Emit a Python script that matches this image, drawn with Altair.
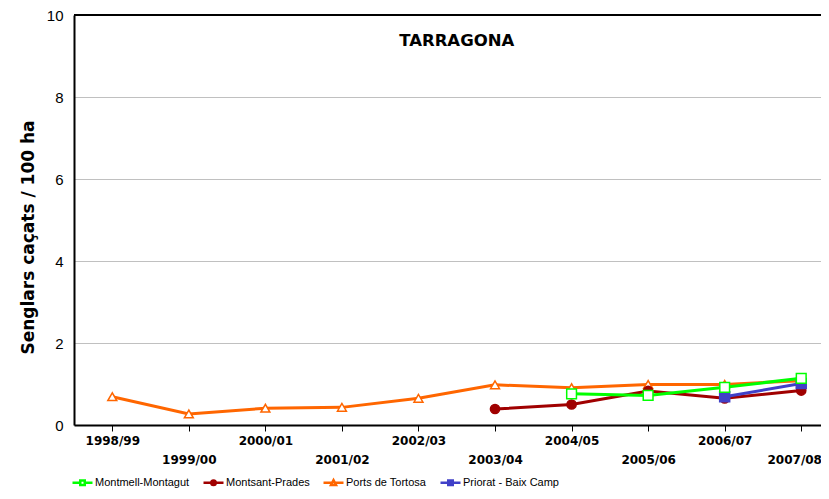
import altair as alt
import pandas as pd

# ---------------- data ----------------
seasons = ["1998/99", "1999/00", "2000/01", "2001/02", "2002/03",
           "2003/04", "2004/05", "2005/06", "2006/07", "2007/08"]
series_names = ["Montmell-Montagut", "Montsant-Prades", "Ports de Tortosa", "Priorat - Baix Camp"]
montmell = [None, None, None, None, None, None, 0.76, 0.72, 0.92, 1.14]
montsant = [None, None, None, None, None, 0.39, 0.50, 0.83, 0.65, 0.84]
ports = [0.69, 0.27, 0.41, 0.43, 0.65, 0.98, 0.91, 0.99, 0.99, 1.08]
priorat = [None, None, None, None, None, None, None, None, 0.69, 1.01]
chart_title = "TARRAGONA"
y_title = "Senglars caçats / 100 ha"
y_ticks = [0, 2, 4, 6, 8, 10]

# ---------------- styles ----------------
colors = ["#00FF00", "#A00000", "#FF6600", "#4040C8"]
fills = ["white", "#A00000", "white", "#4040C8"]
shapes = ["square", "circle", "triangle-up", "square"]
sizes = [95, 85, 80, 100]
legend_paths = [
    "M-1,0H0.55M1.45,0H3M0.55,-0.45H1.45V0.45H0.55Z",
    "M-1,0H3M1.45,0A0.45,0.45,0,1,1,0.55,0A0.45,0.45,0,1,1,1.45,0Z",
    "M-1,0H0.74M1.26,0H3M1,-0.5L1.5,0.45L0.5,0.45Z",
    "M-1,0H3M0.55,-0.45H1.45V0.45H0.55Z",
]
draw_order = [2, 1, 3, 0]

rows = []
for name, vals in zip(series_names, [montmell, montsant, ports, priorat]):
    for i, v in enumerate(vals):
        if v is not None:
            rows.append({"i": i, "season": seasons[i], "series": name, "value": v})
df = pd.DataFrame(rows)

W, H = 747, 410
step = 76.55
x_dom = [-0.5, -0.5 + W / step]
x_scale = alt.Scale(domain=x_dom, nice=False, zero=False)
y_scale = alt.Scale(domain=[0, 10], nice=False)

last = len(seasons) - 1
labels_js = "[" + ",".join("'" + s + "'" for s in seasons) + "]"
label_expr = f"datum.value % 2 == 1 ? ['', {labels_js}[datum.value]] : {labels_js}[datum.value]"

x_axis = alt.Axis(values=list(range(len(seasons))), labelExpr=label_expr, title=None, grid=False,
                  domainColor="black", domainWidth=2, tickColor="black", tickSize=6, tickWidth=1,
                  labelFont="DejaVu Sans", labelFontWeight="bold", labelFontSize=12, labelColor="black",
                  labelPadding=4, labelLineHeight=19, labelBaseline="top", labelAlign="center",
                  labelOffset={"condition": {"test": f"datum.value == {last}", "value": -7}, "value": 0},
                  labelOverlap=False, labelFlush=False)
y_axis = alt.Axis(values=y_ticks, title=y_title, titleFont="DejaVu Sans", titleFontSize=17,
                  titleFontWeight="bold", titleColor="black", titlePadding=9, titleY=222,
                  labelFont="Liberation Sans", labelFontSize=15, labelColor="black", labelPadding=11,
                  ticks=False, grid=True, gridColor="#C0C0C0", gridWidth=1,
                  domainColor="black", domainWidth=2)

X = alt.X("i:Q", scale=x_scale, axis=x_axis)
Y = alt.Y("value:Q", scale=y_scale, axis=y_axis)

base = alt.Chart(df)
layers = []

top_rule = base.mark_rule(color="black", strokeWidth=2).encode(
    y=alt.value(0), x=alt.value(0), x2=alt.value(W))
layers.append(top_rule)

for k in draw_order:
    name = series_names[k]
    sub = base.transform_filter(alt.datum.series == name)
    layers.append(sub.mark_line(color=colors[k], strokeWidth=3).encode(x=X, y=Y))
    layers.append(sub.mark_point(shape=shapes[k], size=sizes[k], stroke=colors[k], fill=fills[k],
                                 filled=True, strokeWidth=1.5, opacity=1).encode(x=X, y=Y))

leg = alt.Legend(title=None, orient="none", legendX=-3, legendY=461, direction="horizontal",
                 symbolSize=100, symbolStrokeWidth=2.5, symbolOpacity=1,
                 labelFont="Liberation Sans", labelFontSize=11, labelColor="black",
                 labelOffset=11, columnPadding=8, labelLimit=400, padding=0)
legend_layer = base.mark_point(opacity=0, size=100, strokeWidth=2.5).encode(
    x=X, y=Y,
    stroke=alt.Stroke("series:N", scale=alt.Scale(domain=series_names, range=colors), legend=leg),
    fill=alt.Fill("series:N", scale=alt.Scale(domain=series_names, range=fills), legend=leg),
    shape=alt.Shape("series:N", scale=alt.Scale(domain=series_names, range=legend_paths), legend=leg),
)
layers.append(legend_layer)

title_x = W * (((len(seasons) - 1) / 2) - x_dom[0]) / (x_dom[1] - x_dom[0])
title_layer = alt.Chart(pd.DataFrame({"t": [chart_title]})).mark_text(
    font="DejaVu Sans", fontSize=16.5, fontWeight="bold", color="black", baseline="middle", align="center"
).encode(text="t:N", x=alt.value(title_x), y=alt.value(26))
layers.append(title_layer)

chart = alt.layer(*layers).properties(
    width=W, height=H, autosize="none",
    padding={"left": 66, "top": 7, "right": 0, "bottom": 66},
).configure_view(stroke=None)

chart.save("out.html", embed_options={"renderer": "svg", "actions": False})
